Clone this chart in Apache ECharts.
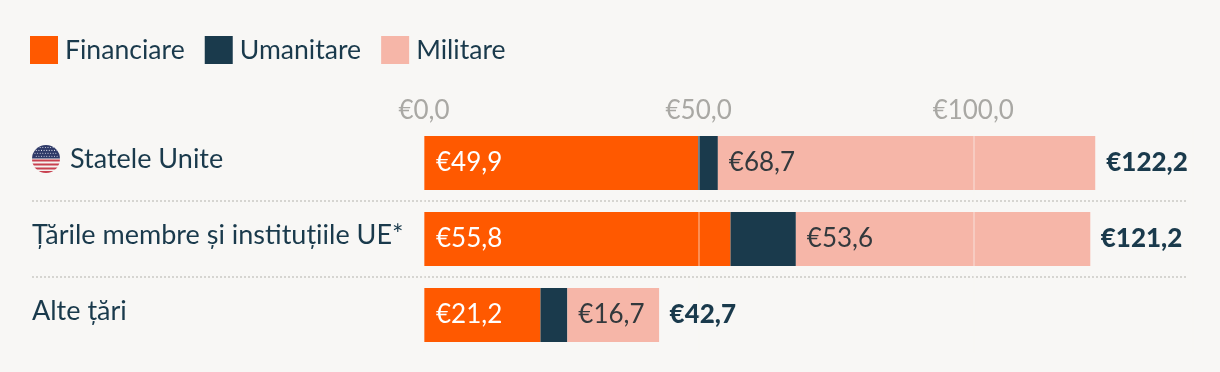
<!DOCTYPE html>
<html><head><meta charset="utf-8">
<style>html,body{margin:0;padding:0;background:#f8f7f5}#c{width:1220px;height:372px}</style>
<script src="https://cdn.jsdelivr.net/npm/echarts@6/dist/echarts.min.js"></script>
</head><body><div id="c"></div>
<script>
const categories = ['Statele Unite', 'Țările membre și instituțiile UE*', 'Alte țări'];
const financiare = [49.9, 55.8, 21.2];
const umanitare = [3.6, 11.9, 4.9];
const militare = [68.7, 53.6, 16.7];
const totals = [122.2, 121.2, 42.7];
const FONT = 'Lato, "Noto Sans", sans-serif';
const INK = '#1a3a4c';
const fmt = v => '€' + v.toFixed(1).replace('.', ',');
let dots = '';
for (let r = 0; r < 4; r++) for (let c = 0; c < 9; c++) dots += '<circle cx="' + (3 + c * 2.6 + (r % 2) * 1.3) + '" cy="' + (2.5 + r * 2.9) + '" r="0.55"/>';
const flagSvg = '<svg xmlns="http://www.w3.org/2000/svg" width="28" height="28" viewBox="0 0 28 28"><defs><clipPath id="a"><circle cx="14" cy="14" r="14"/></clipPath></defs><g clip-path="url(#a)"><rect width="28" height="28" fill="#f5f2f0"/><g fill="#c8404f"><rect y="14.5" width="28" height="2"/><rect y="18.5" width="28" height="2"/><rect y="22.5" width="28" height="2"/><rect y="26" width="28" height="2"/></g><rect width="28" height="13.5" fill="#2f3a68"/><g fill="#dfe1ea">' + dots + '</g></g></svg>';
const flag = 'data:image/svg+xml;charset=utf-8,' + encodeURIComponent(flagSvg);
const chart = echarts.init(document.getElementById('c'), null, {renderer: 'canvas'});
chart.setOption({
  backgroundColor: '#f8f7f5',
  animation: false,
  textStyle: {fontFamily: FONT},
  legend: {
    left: 30, top: 36, padding: 0, itemWidth: 28, itemHeight: 28, itemGap: 20, icon: 'rect',
    data: ['Financiare', 'Umanitare', 'Militare'],
    textStyle: {color: INK, fontSize: 26.6, fontFamily: FONT, padding: [0, 0, 4, 2]}
  },
  grid: [
    {left: 424, top: 125, width: 769, height: 228},
    {left: 32, top: 125, right: 32, height: 228}
  ],
  xAxis: [
    {type: 'value', gridIndex: 0, position: 'top', min: 0, max: 140, interval: 50, z: 10,
     axisLine: {show: false}, axisTick: {show: false},
     axisLabel: {color: '#a9a8a4', fontSize: 26, margin: 1, fontFamily: FONT,
       formatter: v => v > 100 ? '' : fmt(v)},
     splitLine: {show: true, lineStyle: {color: 'rgba(248,247,245,0.45)', width: 1.5}}},
    {type: 'value', gridIndex: 1, min: 0, max: 1, show: false}
  ],
  yAxis: [
    {type: 'category', gridIndex: 0, inverse: true, data: categories,
     axisLine: {show: false}, axisTick: {show: false},
     axisLabel: {
       align: 'left', margin: 392, color: INK, fontSize: 27, fontFamily: FONT, padding: [0, 0, 8, 0],
       formatter: (v, i) => i === 0 ? '{f|}{t|' + v + '}' : v,
       rich: {
         f: {width: 28, height: 28, backgroundColor: {image: flag}},
         t: {color: INK, fontSize: 27, fontFamily: FONT, padding: [0, 0, 0, 10]}
       }
     }},
    {type: 'category', gridIndex: 1, inverse: true, data: categories,
     axisLine: {show: false}, axisTick: {show: false}, axisLabel: {show: false},
     splitLine: {show: true, showMinLine: false, showMaxLine: false,
       lineStyle: {color: '#d6d5d1', width: 2, type: [2, 2]}}}
  ],
  series: [
    {name: 'Financiare', type: 'bar', stack: 's', barWidth: 54, data: financiare, itemStyle: {color: '#ff5900'},
     label: {show: true, position: 'insideLeft', distance: 12, color: '#fff', fontSize: 26, fontFamily: FONT, formatter: p => fmt(p.value)}},
    {name: 'Umanitare', type: 'bar', stack: 's', barWidth: 54, data: umanitare, itemStyle: {color: INK}},
    {name: 'Militare', type: 'bar', stack: 's', barWidth: 54, data: militare, itemStyle: {color: '#f6b6a8'},
     label: {show: true, position: 'insideLeft', distance: 11, color: '#33393d', fontSize: 26, fontFamily: FONT, formatter: p => fmt(p.value)}},
    {name: 'Total', type: 'bar', barWidth: 54, barGap: '-100%', data: totals, itemStyle: {color: 'transparent'}, silent: true,
     label: {show: true, position: 'right', distance: 11, color: INK, fontSize: 26, fontWeight: 900, fontFamily: FONT, formatter: p => fmt(p.value)}}
  ]
});
</script></body></html>
